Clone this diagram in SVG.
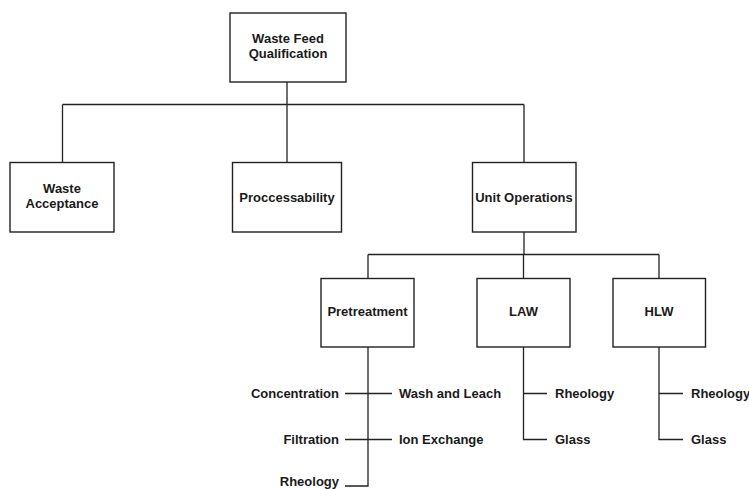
<svg xmlns="http://www.w3.org/2000/svg" width="749" height="489" viewBox="0 0 749 489">
<style>
.box{fill:#fff;stroke:#222;stroke-width:1.4}
.ln{fill:none;stroke:#222;stroke-width:1.3}
text{font-family:"Liberation Sans",Arial,sans-serif;font-weight:bold;font-size:13px;fill:#1a1a1a}
.c{text-anchor:middle}
.e{text-anchor:end}
</style>
<rect width="749" height="489" fill="#fff"/>
<g id="connectors">
<path class="ln" d="M287,82 V104.5 M62.5,104.5 H524 M62.5,104.5 V162.5 M287,104.5 V162.5 M524,104.5 V162.5"/>
<path class="ln" d="M524,232 V254.5 M368,254.5 H659 M368,254.5 V278.5 M523.5,254.5 V278.5 M659,254.5 V278.5"/>
<path class="ln" d="M368,347 V486 H345 M345,393.5 H392 M345,439.5 H392"/>
<path class="ln" d="M523.5,347 V439.5 H547 M523.5,393.5 H547"/>
<path class="ln" d="M659,347 V439.5 H683 M659,393.5 H683"/>
</g>
<g id="waste-feed-qualification">
<rect class="box" x="230" y="13" width="116" height="69"/>
<text class="c" x="288" y="42.5">Waste Feed</text>
<text class="c" x="288" y="58">Qualification</text>
</g>
<g id="waste-acceptance">
<rect class="box" x="10" y="162.5" width="104" height="69.5"/>
<text class="c" x="62" y="192.5">Waste</text>
<text class="c" x="62" y="207.5">Acceptance</text>
</g>
<g id="proccessability">
<rect class="box" x="232.5" y="162.5" width="109" height="69.5"/>
<text class="c" x="287" y="201.5">Proccessability</text>
</g>
<g id="unit-operations">
<rect class="box" x="472.5" y="162.5" width="103.5" height="69.5"/>
<text class="c" x="524" y="201.5">Unit Operations</text>
</g>
<g id="pretreatment">
<rect class="box" x="321" y="278.5" width="93" height="68.5"/>
<text class="c" x="367.5" y="316">Pretreatment</text>
</g>
<g id="law">
<rect class="box" x="477" y="278.5" width="93" height="68.5"/>
<text class="c" x="523.5" y="316">LAW</text>
</g>
<g id="hlw">
<rect class="box" x="613" y="278.5" width="92.5" height="68.5"/>
<text class="c" x="659" y="316">HLW</text>
</g>
<g id="pretreatment-items">
<text class="e" x="339" y="398">Concentration</text>
<text class="e" x="339" y="444">Filtration</text>
<text class="e" x="339" y="485.5">Rheology</text>
<text x="399" y="398">Wash and Leach</text>
<text x="399" y="444">Ion Exchange</text>
</g>
<g id="law-items">
<text x="555" y="398">Rheology</text>
<text x="555" y="444">Glass</text>
</g>
<g id="hlw-items">
<text x="691" y="398">Rheology</text>
<text x="691" y="444">Glass</text>
</g>
</svg>
